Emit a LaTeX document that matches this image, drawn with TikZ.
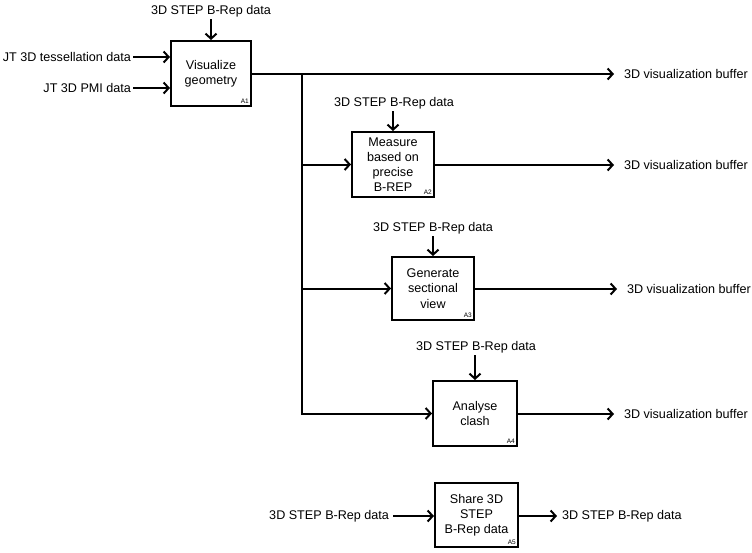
\documentclass[tikz,border=0pt]{standalone}
\usepackage{fontspec}
\setmainfont{Liberation Sans}
\usetikzlibrary{arrows.meta}
\begin{document}
\begin{tikzpicture}[x=1pt,y=-1pt,
  every node/.style={font=\fontsize{12.6}{15.2}\selectfont},
  fbox/.style={draw,line width=2pt,align=center,inner sep=0pt},
  lbl/.style={inner sep=0pt},
  tag/.style={font=\fontsize{6.5}{7}\selectfont,anchor=south east,inner sep=3pt},
  conn/.style={line width=2pt},
  arr/.style={conn,-{Straight Barb[length=5pt,width=11pt,line width=2pt]}}]
\useasboundingbox (0,0) rectangle (752,552);
% boxes
\node[fbox,minimum width=80pt,minimum height=65pt] (a1) at (211,73.5) {Visualize\\geometry};
\node[fbox,minimum width=82pt,minimum height=65pt] (a2) at (393,164.5) {Measure\\based on\\precise\\B-REP};
\node[fbox,minimum width=82pt,minimum height=63pt] (a3) at (433,288.5) {Generate\\sectional\\view};
\node[fbox,minimum width=84pt,minimum height=65pt] (a4) at (475,413.5) {Analyse\\clash};
\node[fbox,minimum width=83pt,minimum height=64pt] (a5) at (476.5,515) {Share 3D\\STEP\\B-Rep data};
% tags
\node[tag] (g1) at (a1.south east) {A1};
\node[tag] (g2) at (a2.south east) {A2};
\node[tag] (g3) at (a3.south east) {A3};
\node[tag] (g4) at (a4.south east) {A4};
\node[tag] (g5) at (a5.south east) {A5};
% top inputs
\node[lbl] (t1) at ([yshift=29pt]a1.north) {3D STEP B-Rep data};
\node[lbl] (t2) at ([yshift=28pt,xshift=1pt]a2.north) {3D STEP B-Rep data};
\node[lbl] (t3) at ([yshift=28pt]a3.north) {3D STEP B-Rep data};
\node[lbl] (t4) at ([yshift=33pt,xshift=1pt]a4.north) {3D STEP B-Rep data};
\draw[arr] ([yshift=-2pt]t1.south -| a1.north) -- (a1.north);
\draw[arr] ([yshift=-2pt]t2.south -| a2.north) -- (a2.north);
\draw[arr] ([yshift=-2pt]t3.south -| a3.north) -- (a3.north);
\draw[arr] ([yshift=-2pt]t4.south -| a4.north) -- (a4.north);
% left inputs
\node[lbl,anchor=east,outer xsep=2pt] (i1) at (133,57) {JT 3D tessellation data};
\node[lbl,anchor=east,outer xsep=2pt] (i2) at (133,88) {JT 3D PMI data};
\draw[arr] (i1.east) -- (i1.east -| a1.west);
\draw[arr] (i2.east) -- (i2.east -| a1.west);
% outputs
\node[lbl,anchor=west,outer xsep=10pt] (o1) at (614,74) {3D visualization buffer};
\node[lbl,anchor=west,outer xsep=10pt] (o2) at (614,165) {3D visualization buffer};
\node[lbl,anchor=west,outer xsep=10pt] (o3) at (617,289) {3D visualization buffer};
\node[lbl,anchor=west,outer xsep=10pt] (o4) at (614,414) {3D visualization buffer};
\coordinate (j1) at (302,74);
\draw[arr] (a1.east |- j1) -- (o1.west);
\draw[arr] (a2.east |- o2.west) -- (o2.west);
\draw[arr] (a3.east |- o3.west) -- (o3.west);
\draw[arr] (a4.east |- o4.west) -- (o4.west);
% trunk
\draw[arr] (j1) -- (j1 |- a4.west) -- (a4.west);
\draw[arr] (j1 |- a2.west) -- (a2.west);
\draw[arr] (j1 |- a3.west) -- (a3.west);
% A5
\node[lbl,anchor=east,outer xsep=4pt] (i5) at (393,516) {3D STEP B-Rep data};
\node[lbl,anchor=west,outer xsep=5pt] (o5) at (557,516) {3D STEP B-Rep data};
\draw[arr] (i5.east) -- (i5.east -| a5.west);
\draw[arr] (a5.east |- o5.west) -- (o5.west);
\end{tikzpicture}
\end{document}
